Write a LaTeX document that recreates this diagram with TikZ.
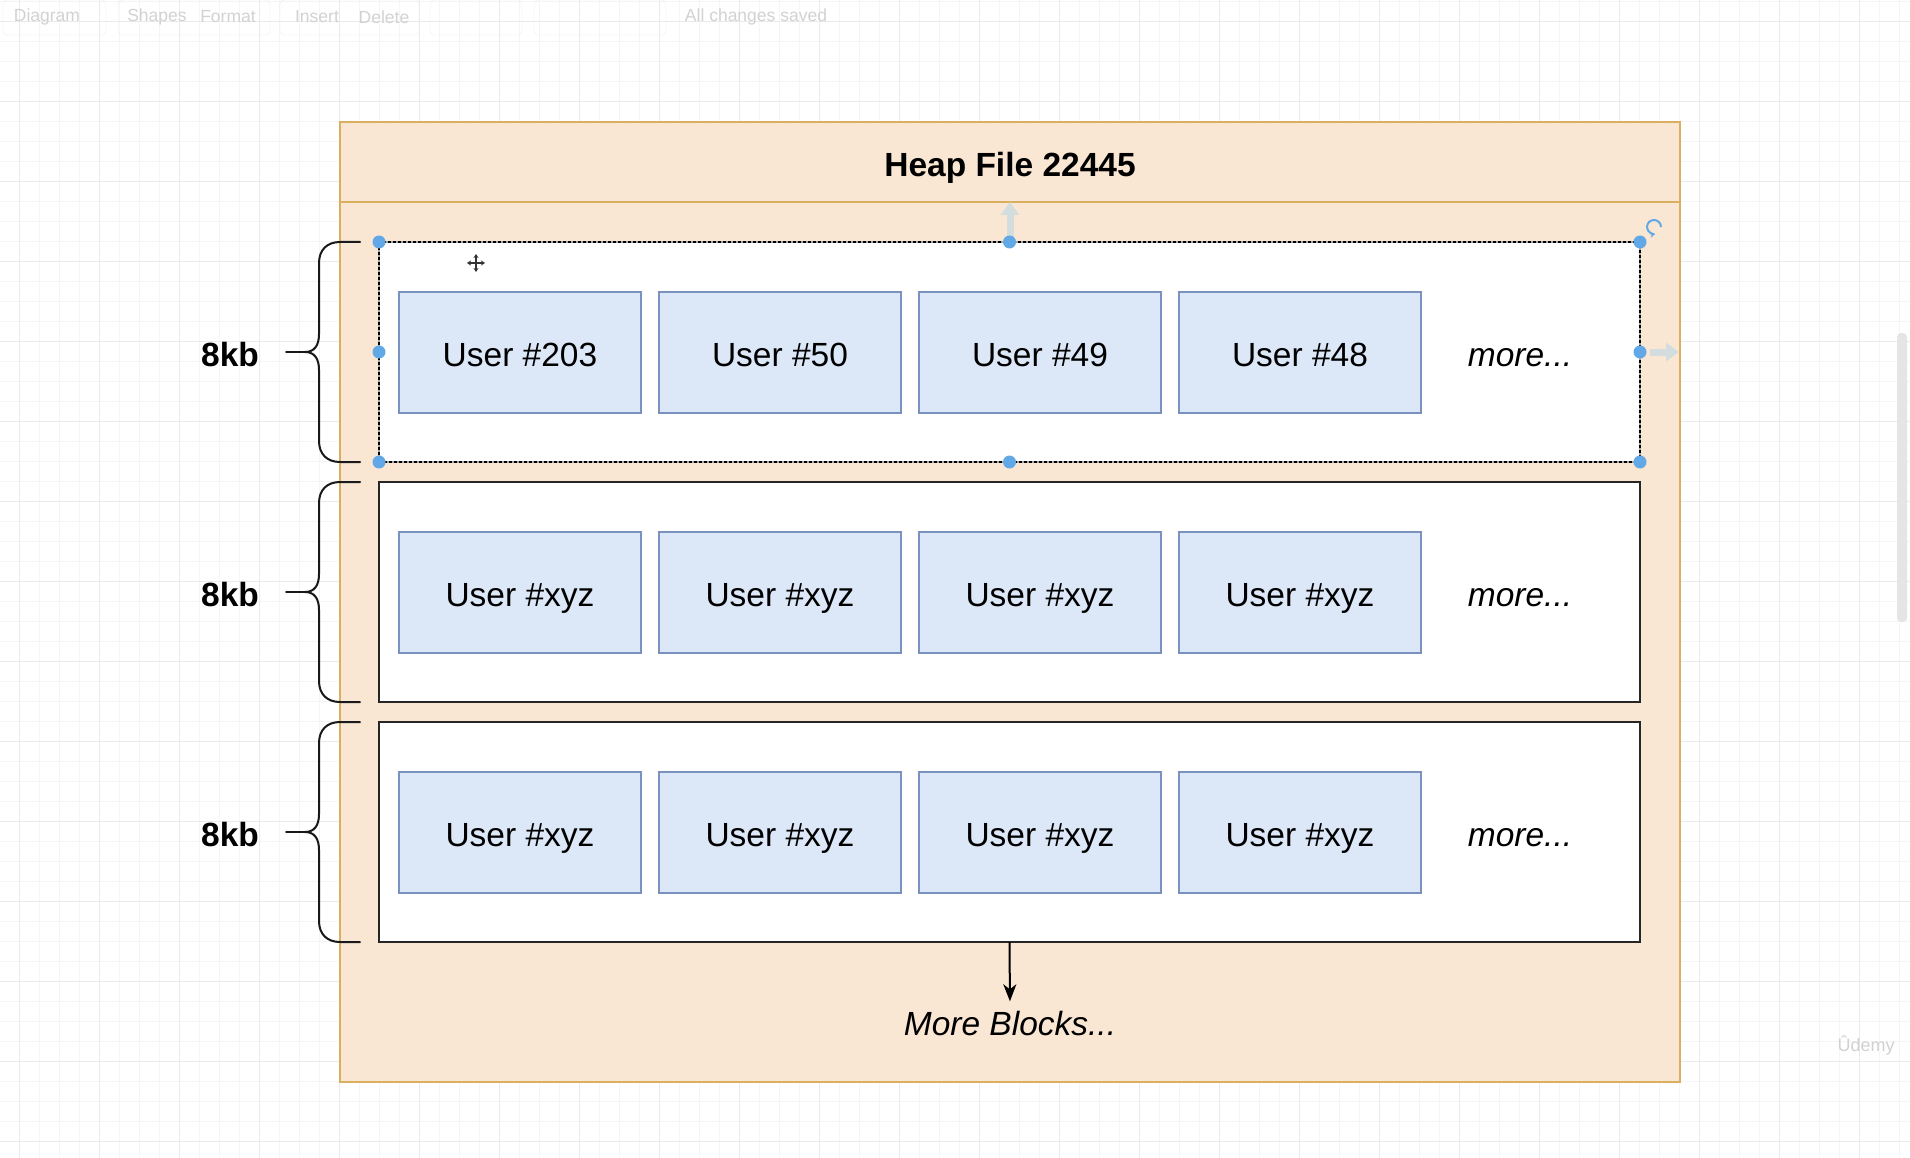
\documentclass[tikz,border=0pt]{standalone}
\usepackage{fontspec}
\setmainfont{Liberation Sans}
\usetikzlibrary{positioning, arrows.meta}
\definecolor{HeapFill}{RGB}{250,231,211}
\definecolor{HeapLine}{RGB}{218,176,96}
\definecolor{UserFill}{RGB}{220,231,247}
\definecolor{UserLine}{RGB}{122,146,192}
\definecolor{HandleColor}{RGB}{98,168,230}
\definecolor{HoverColor}{RGB}{212,221,222}
\definecolor{GridMinor}{RGB}{245,245,245}
\definecolor{GridMajor}{RGB}{234,234,234}
\definecolor{ToolColor}{RGB}{210,210,210}
\tikzstyle{blockbox} = [draw=black!85, fill=white, line width=2.2pt, minimum width=1261pt, minimum height=220pt, inner sep=0pt, outer sep=0pt]
\tikzstyle{userbox} = [draw=UserLine, fill=UserFill, line width=1.8pt, minimum width=242pt, minimum height=121pt, inner sep=0pt, outer sep=0pt, font=\fontsize{33.5}{40}\selectfont, text height=27pt, text depth=0pt]
\tikzstyle{labeltext} = [inner sep=0pt, font=\fontsize{33.5}{40}\selectfont, text height=27pt, text depth=0pt]
\tikzstyle{brace} = [line width=2pt, black!90, line cap=round, line join=round]
\tikzstyle{flowarrow} = [line width=2pt, black, -{Stealth[length=17pt,width=13pt,inset=5pt]}]
\tikzstyle{hover} = [HoverColor, line width=7pt, -{Triangle[length=13pt,width=18pt]}]
\tikzstyle{toollabel} = [ToolColor, font=\fontsize{17.5}{20}\selectfont]

\begin{document}
\begin{tikzpicture}[x=1pt, y=-1pt]
  \useasboundingbox (0,0) rectangle (1910,1158);
  \fill[white] (0,0) rectangle (1910,1158);

  % Grid
  \foreach \gx in {19,39,...,1899} \draw[GridMinor, line width=1pt] (\gx,0) -- (\gx,1158);
  \foreach \gy in {1.7,21.7,...,1150} \draw[GridMinor, line width=1pt] (0,\gy) -- (1910,\gy);
  \foreach \gx in {19,99,...,1899} \draw[GridMajor, line width=1pt] (\gx,0) -- (\gx,1158);
  \foreach \gy in {21.7,101.7,...,1150} \draw[GridMajor, line width=1pt] (0,\gy) -- (1910,\gy);

  % Toolbar
  \draw[black!7, rounded corners=4pt] (3,0) rectangle (106,35);
  \draw[black!7, rounded corners=4pt] (118,0) rectangle (270,35);
  \draw[black!7, rounded corners=4pt] (280,0) rectangle (419,35);
  \draw[black!7, rounded corners=4pt] (430,0) rectangle (522,35);
  \draw[black!7, rounded corners=4pt] (534,0) rectangle (666,35);
  \node[toollabel] (tbdiagram) at (47,17) {Diagram};
  \node[toollabel] (tbshapes) at (157,17) {Shapes};
  \node[toollabel] (tbformat) at (228,17) {Format};
  \node[toollabel] (tbinsert) at (317,17) {Insert};
  \node[toollabel] (tbdelete) at (384,17) {Delete};
  \node[toollabel] (tbsaved) at (756,17) {All changes saved};
  \fill[black!10, rounded corners=4pt] (1897,333) rectangle (1907,622);

  % Heap file
  \draw[HeapLine, fill=HeapFill, line width=2pt] (340,122) rectangle (1680,1082);
  \draw[HeapLine, line width=2pt] (340,202) -- (1680,202);
  \node[labeltext, font=\fontsize{33.5}{40}\selectfont\bfseries] (title) at (1010,163) {Heap File 22445};

  % Braces
  \draw[brace] (360,242) -- (340,242) .. controls (327,242) and (319,250) .. (319,263) -- (319,334)
    .. controls (319,346) and (314,352) .. (305,352) .. controls (314,352) and (319,358) .. (319,370)
    -- (319,441) .. controls (319,454) and (327,462) .. (340,462) -- (360,462);
  \draw[brace] (305,352) -- (286,352);
  \draw[brace, shift={(0,240)}] (360,242) -- (340,242) .. controls (327,242) and (319,250) .. (319,263) -- (319,334)
    .. controls (319,346) and (314,352) .. (305,352) .. controls (314,352) and (319,358) .. (319,370)
    -- (319,441) .. controls (319,454) and (327,462) .. (340,462) -- (360,462);
  \draw[brace, shift={(0,240)}] (305,352) -- (286,352);
  \draw[brace, shift={(0,480)}] (360,242) -- (340,242) .. controls (327,242) and (319,250) .. (319,263) -- (319,334)
    .. controls (319,346) and (314,352) .. (305,352) .. controls (314,352) and (319,358) .. (319,370)
    -- (319,441) .. controls (319,454) and (327,462) .. (340,462) -- (360,462);
  \draw[brace, shift={(0,480)}] (305,352) -- (286,352);
  \node[labeltext, font=\fontsize{33.5}{40}\selectfont\bfseries] (size1) at (230,353) {8kb};
  \node[labeltext, font=\fontsize{33.5}{40}\selectfont\bfseries] (size2) at (230,593) {8kb};
  \node[labeltext, font=\fontsize{33.5}{40}\selectfont\bfseries] (size3) at (230,833) {8kb};

  % Blocks
  \node[blockbox, draw=black!35, line width=1.5pt] (blk1) at (1009.5,352) {};
  \draw[black, line width=2pt, dash pattern=on 3pt off 2pt] (blk1.north west) rectangle (blk1.south east);
  \node[blockbox, below=20pt of blk1] (blk2) {};
  \node[blockbox, below=20pt of blk2] (blk3) {};

  % Records
  \node[userbox] (u11) at (520,352.5) {User \#203};
  \node[userbox, right=18pt of u11] (u12) {User \#50};
  \node[userbox, right=18pt of u12] (u13) {User \#49};
  \node[userbox, right=18pt of u13] (u14) {User \#48};
  \node[labeltext, font=\fontsize{33.5}{40}\selectfont\itshape] (more1) at (1520,352.5) {more...};
  \node[userbox] (u21) at (520,592.5) {User \#xyz};
  \node[userbox, right=18pt of u21] (u22) {User \#xyz};
  \node[userbox, right=18pt of u22] (u23) {User \#xyz};
  \node[userbox, right=18pt of u23] (u24) {User \#xyz};
  \node[labeltext, font=\fontsize{33.5}{40}\selectfont\itshape] (more2) at (1520,592.5) {more...};
  \node[userbox] (u31) at (520,832.5) {User \#xyz};
  \node[userbox, right=18pt of u31] (u32) {User \#xyz};
  \node[userbox, right=18pt of u32] (u33) {User \#xyz};
  \node[userbox, right=18pt of u33] (u34) {User \#xyz};
  \node[labeltext, font=\fontsize{33.5}{40}\selectfont\itshape] (more3) at (1520,832.5) {more...};

  % More blocks
  \node[labeltext, font=\fontsize{33.5}{40}\selectfont\itshape] (moreblk) at (1010,1022) {More Blocks...};
  \draw[flowarrow, shorten >=7pt] (blk3.south) -- (moreblk.north);

  % Selection handles
  \draw[hover] (1010,240) -- (1010,202);
  \draw[hover] (1650,352) -- (1679,352);
  \fill[HandleColor] (blk1.north west) circle (6.5);
  \fill[HandleColor] (blk1.north) circle (6.5);
  \fill[HandleColor] (blk1.north east) circle (6.5);
  \fill[HandleColor] (blk1.west) circle (6.5);
  \fill[HandleColor] (blk1.east) circle (6.5);
  \fill[HandleColor] (blk1.south west) circle (6.5);
  \fill[HandleColor] (blk1.south) circle (6.5);
  \fill[HandleColor] (blk1.south east) circle (6.5);
  \draw[HandleColor, line width=2pt, -{Stealth[length=5pt,width=6pt]}] (1661,227) arc[start angle=0, end angle=-280, radius=7];
  \draw[black!80, line width=1.5pt, {Stealth[length=4pt,width=5pt]}-{Stealth[length=4pt,width=5pt]}] (467,263) -- (485,263);
  \draw[black!80, line width=1.5pt, {Stealth[length=4pt,width=5pt]}-{Stealth[length=4pt,width=5pt]}] (476,254) -- (476,272);

  % Watermark
  \node[black!18, font=\fontsize{18}{20}\selectfont] (mark) at (1866,1045) {Ûdemy};
\end{tikzpicture}
\end{document}
